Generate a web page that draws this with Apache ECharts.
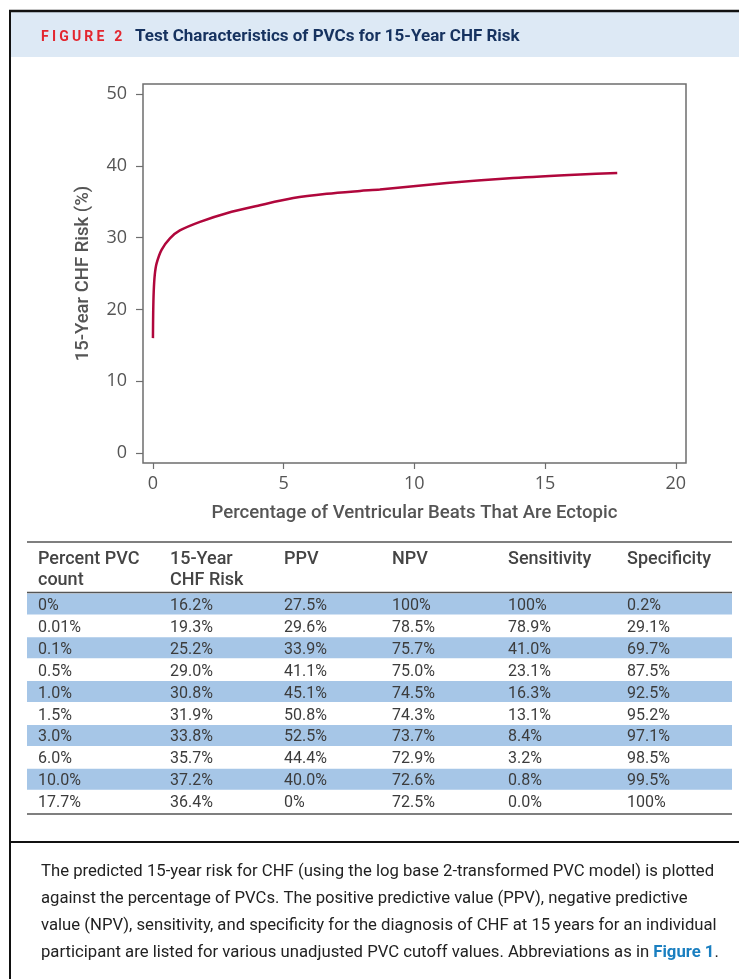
<!DOCTYPE html>
<html>
<head>
	<meta charset="UTF-8" />
	<title>Test Characteristics of PVCs for 15-Year CHF Risk</title>
	<style type="text/css">
		* {
			margin: 0;
			padding: 0;
		}

		body {
			background: #fff;
		}

		#main {
			width: 739px;
			height: 979px;
		}
	</style>
</head>

<body>
	<div id="main"></div>
</body>
<script src="https://cdn.jsdelivr.net/npm/echarts@6/dist/echarts.min.js"></script>
<script type="text/javascript">
	// curve (x = % ectopic beats, y = 15-year CHF risk %)
	var curveX = [0, 0.01, 0.03, 0.07, 0.14, 0.33, 0.65, 1.03, 1.8, 2.82, 4.09, 5.37, 6.65, 7.92, 8.68, 11.24, 13.78, 16.34, 17.76]
	var curveY = [16.0, 19.6, 22.5, 24.8, 26.4, 28.3, 29.9, 31.0, 32.2, 33.4, 34.5, 35.5, 36.1, 36.5, 36.7, 37.6, 38.3, 38.8, 39.0]

	var xTicks = [0, 5, 10, 15, 20]
	var yTicks = [0, 10, 20, 30, 40, 50]

	// table
	var headers = [['Percent PVC', 'count'], ['15-Year', 'CHF Risk'], ['PPV'], ['NPV'], ['Sensitivity'], ['Specificity']]
	var pvcCount = ['0%', '0.01%', '0.1%', '0.5%', '1.0%', '1.5%', '3.0%', '6.0%', '10.0%', '17.7%']
	var chfRisk = ['16.2%', '19.3%', '25.2%', '29.0%', '30.8%', '31.9%', '33.8%', '35.7%', '37.2%', '36.4%']
	var ppv = ['27.5%', '29.6%', '33.9%', '41.1%', '45.1%', '50.8%', '52.5%', '44.4%', '40.0%', '0%']
	var npv = ['100%', '78.5%', '75.7%', '75.0%', '74.5%', '74.3%', '73.7%', '72.9%', '72.6%', '72.5%']
	var sens = ['100%', '78.9%', '41.0%', '23.1%', '16.3%', '13.1%', '8.4%', '3.2%', '0.8%', '0.0%']
	var spec = ['0.2%', '29.1%', '69.7%', '87.5%', '92.5%', '95.2%', '97.1%', '98.5%', '99.5%', '100%']

	var captionLines = [
		'The predicted 15-year risk for CHF (using the log base 2-transformed PVC model) is plotted',
		'against the percentage of PVCs. The positive predictive value (PPV), negative predictive',
		'value (NPV), sensitivity, and specificity for the diagnosis of CHF at 15 years for an individual',
		'participant are listed for various unadjusted PVC cutoff values. Abbreviations as in {b|Figure 1}.'
	]

	var myChart = echarts.init(document.getElementById('main'))

	var colX = [38, 170, 284, 392, 508, 627]
	var columns = [pvcCount, chfRisk, ppv, npv, sens, spec]
	var rowTop = 606 // first row centre
	var rowStep = 21.9
	var tableFont = '16px Roboto'
	var capFont = 16.7

	var graphics = []

	// frame + header band
	graphics.push({ type: 'rect', shape: { x: 11, y: 12, width: 728, height: 45 }, style: { fill: '#dde9f5' } })
	graphics.push({ type: 'line', shape: { x1: 9, y1: 11, x2: 739, y2: 11 }, style: { stroke: '#111', lineWidth: 2.5 } })
	graphics.push({ type: 'line', shape: { x1: 10, y1: 10, x2: 10, y2: 979 }, style: { stroke: '#111', lineWidth: 2 } })

	// "FIGURE 2" with letter spacing, one glyph at a time
	var figFont = 'bold 14px Roboto'
	var ctx = document.createElement('canvas').getContext('2d')
	ctx.font = figFont
	var fx = 41
	'FIGURE 2'.split('').forEach(function (ch) {
		graphics.push({
			type: 'text', x: fx, y: 37,
			style: { text: ch, font: figFont, fill: '#e3262f', textVerticalAlign: 'middle', verticalAlign: 'middle' }
		})
		fx += ctx.measureText(ch).width + 3.2
	})
	graphics.push({
		type: 'text', x: 135, y: 37,
		style: { text: 'Test Characteristics of PVCs for 15-Year CHF Risk', font: 'bold 17px Roboto', fill: '#16325f', textVerticalAlign: 'middle', verticalAlign: 'middle' }
	})

	// table bands
	for (var i = 0; i < pvcCount.length; i += 2) {
		graphics.push({
			type: 'rect',
			shape: { x: 27, y: rowTop + rowStep * i - 12.5, width: 705, height: 21 },
			style: { fill: '#a6c6e7' }
		})
	}
	graphics.push({ type: 'line', shape: { x1: 27, y1: 542, x2: 732, y2: 542 }, style: { stroke: '#555', lineWidth: 1.5 } })
	graphics.push({ type: 'line', shape: { x1: 27, y1: 592.5, x2: 732, y2: 592.5 }, style: { stroke: '#555', lineWidth: 1.5 } })
	graphics.push({ type: 'line', shape: { x1: 27, y1: 814, x2: 732, y2: 814 }, style: { stroke: '#555', lineWidth: 1.5 } })

	headers.forEach(function (h, c) {
		h.forEach(function (t, k) {
			graphics.push({
				type: 'text', x: colX[c], y: 559 + k * 21.7,
				style: { text: t, font: '500 18px Roboto', fill: '#444', textVerticalAlign: 'middle', verticalAlign: 'middle' }
			})
		})
	})
	columns.forEach(function (col, c) {
		col.forEach(function (t, r) {
			graphics.push({
				type: 'text', x: colX[c], y: rowTop + rowStep * r,
				style: { text: t, font: tableFont, fill: '#3c3c3c', textVerticalAlign: 'middle', verticalAlign: 'middle' }
			})
		})
	})

	// caption
	graphics.push({ type: 'line', shape: { x1: 10, y1: 842, x2: 739, y2: 842 }, style: { stroke: '#111', lineWidth: 2 } })
	captionLines.forEach(function (t, k) {
		graphics.push({
			type: 'text', x: 41, y: 872.3 + k * 26.7,
			style: {
				text: t, font: capFont + 'px Roboto', fill: '#222', textVerticalAlign: 'middle', verticalAlign: 'middle',
				rich: { b: { fontFamily: 'Roboto', fontSize: capFont, fontWeight: 'bold', fill: '#1a7fc0', color: '#1a7fc0' } }
			}
		})
	})

	var pts = curveX.map(function (x, i) { return [x, curveY[i]] })

	var option = {
		backgroundColor: '#fff',
		animation: false,
		textStyle: { fontFamily: 'Open Sans' },
		grid: {
			left: 143, top: 84, width: 543, height: 379,
			show: true, borderColor: '#6e6e6e', borderWidth: 1.5, backgroundColor: 'transparent'
		},
		xAxis: {
			type: 'value',
			min: -0.38,
			max: 20.39,
			name: 'Percentage of Ventricular Beats That Are Ectopic',
			nameLocation: 'middle',
			nameGap: 41,
			nameTextStyle: { fontSize: 18.6, fontWeight: 500, color: '#555', fontFamily: 'Roboto' },
			axisLine: { show: false, onZero: false },
			axisTick: { show: true, inside: false, length: 6, customValues: xTicks, lineStyle: { color: '#6e6e6e', width: 1.2 } },
			axisLabel: { customValues: xTicks, fontSize: 18, color: '#555', margin: 12 },
			splitLine: { show: false }
		},
		yAxis: {
			type: 'value',
			min: -1.39,
			max: 51.39,
			name: '15-Year CHF Risk (%)',
			nameLocation: 'middle',
			nameGap: 50,
			nameTextStyle: { fontSize: 18.5, fontWeight: 500, color: '#555', fontFamily: 'Roboto' },
			axisLine: { show: false, onZero: false },
			axisTick: { show: true, inside: false, length: 7, customValues: yTicks, lineStyle: { color: '#6e6e6e', width: 1.2 } },
			axisLabel: { customValues: yTicks, fontSize: 18, color: '#555', margin: 16 },
			splitLine: { show: false }
		},
		series: [{
			type: 'line',
			data: pts,
			smooth: 0.3,
			showSymbol: false,
			lineStyle: { color: '#b0073c', width: 2.5 },
			z: 3
		}],
		graphic: { elements: graphics }
	}
	myChart.setOption(option)
</script>

</html>
